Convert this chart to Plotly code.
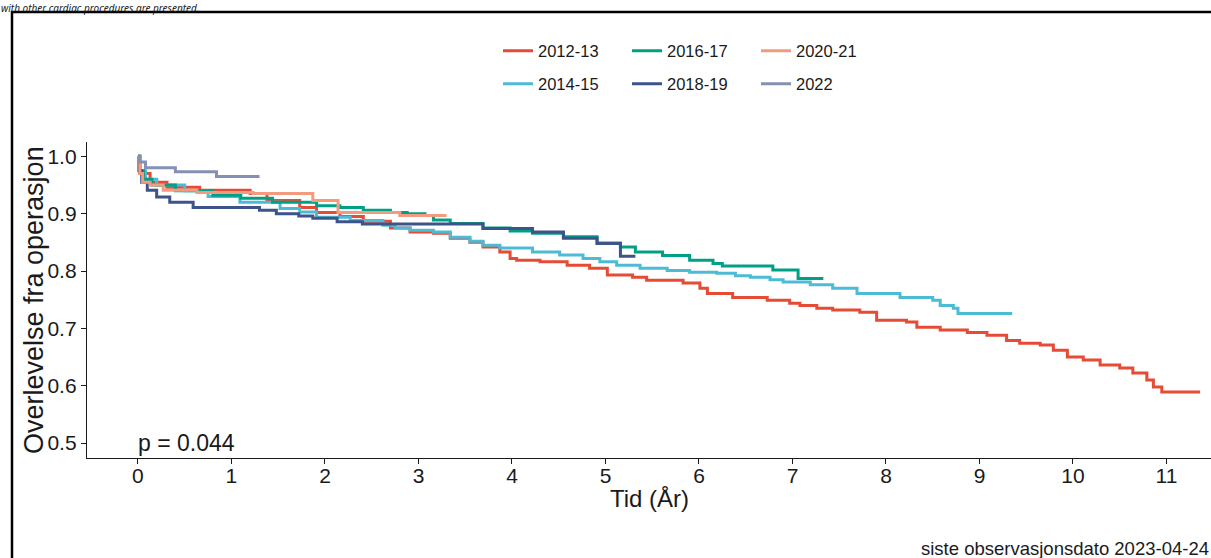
import plotly.graph_objects as go

# ---------------- data ----------------
groups = ["2012-13", "2014-15", "2016-17", "2018-19", "2020-21", "2022"]
colors = ["#E64B35", "#4DBBD5", "#00A087", "#3C5488", "#F39B7F", "#8491B4"]

t_2012_13 = [0, 0.02, 0.13, 0.31, 0.66, 1.20, 1.38, 1.73, 1.91, 2.16, 2.41, 2.70, 2.91, 3.16, 3.34,
             3.55, 3.69, 3.87, 3.98, 4.05, 4.30, 4.59, 4.83, 5.02, 5.29, 5.44, 5.83, 6.01, 6.09, 6.36,
             6.73, 6.97, 7.08, 7.26, 7.43, 7.72, 7.90, 8.22, 8.33, 8.58, 8.87, 9.08, 9.29, 9.43, 9.65,
             9.79, 9.94, 10.11, 10.29, 10.50, 10.64, 10.79, 10.86, 10.95, 11.36]
s_2012_13 = [1.0, 0.970, 0.955, 0.946, 0.941, 0.935, 0.923, 0.911, 0.902, 0.895, 0.887, 0.875, 0.868, 0.866, 0.857,
             0.850, 0.842, 0.833, 0.822, 0.819, 0.816, 0.810, 0.805, 0.793, 0.789, 0.784, 0.779, 0.770, 0.761, 0.754,
             0.749, 0.744, 0.740, 0.735, 0.732, 0.728, 0.714, 0.711, 0.702, 0.697, 0.693, 0.688, 0.679, 0.674, 0.671,
             0.662, 0.650, 0.645, 0.636, 0.631, 0.622, 0.610, 0.598, 0.589, 0.589]

t_2014_15 = [0, 0.02, 0.08, 0.2, 0.5, 0.75, 1.09, 1.52, 1.73, 1.91, 2.27, 2.62, 2.75, 2.91, 3.16,
             3.34, 3.55, 3.69, 3.87, 4.22, 4.51, 4.76, 4.94, 5.12, 5.37, 5.66, 5.90, 6.19, 6.39, 6.55,
             6.76, 6.90, 7.19, 7.43, 7.69, 8.15, 8.50, 8.58, 8.72, 8.77, 9.35]
s_2014_15 = [1.0, 0.975, 0.960, 0.950, 0.940, 0.930, 0.920, 0.909, 0.903, 0.894, 0.888, 0.880, 0.875, 0.871, 0.868,
             0.859, 0.852, 0.845, 0.840, 0.833, 0.828, 0.822, 0.816, 0.810, 0.805, 0.801, 0.798, 0.796, 0.792, 0.789,
             0.785, 0.781, 0.776, 0.770, 0.761, 0.754, 0.749, 0.740, 0.735, 0.726, 0.726]

t_2016_17 = [0, 0.02, 0.06, 0.15, 0.4, 0.8, 1.1, 1.44, 1.91, 2.16, 2.41, 2.70, 2.88, 3.07, 3.16,
             3.34, 3.69, 3.98, 4.22, 4.55, 4.91, 5.16, 5.32, 5.61, 5.90, 6.15, 6.25, 6.79, 7.06, 7.33]
s_2016_17 = [1.0, 0.975, 0.960, 0.950, 0.940, 0.932, 0.927, 0.920, 0.914, 0.911, 0.906, 0.902, 0.900, 0.897, 0.889,
             0.883, 0.875, 0.870, 0.866, 0.860, 0.849, 0.842, 0.833, 0.827, 0.819, 0.813, 0.809, 0.802, 0.787, 0.787]

t_2018_19 = [0, 0.01, 0.04, 0.10, 0.20, 0.34, 0.59, 1.30, 1.48, 1.72, 1.87, 2.13, 2.40, 3.69, 4.22,
             4.55, 4.91, 5.16, 5.32]
s_2018_19 = [1.0, 0.975, 0.955, 0.941, 0.929, 0.920, 0.911, 0.906, 0.900, 0.896, 0.892, 0.886, 0.882, 0.874, 0.868,
             0.857, 0.848, 0.826, 0.826]

t_2020_21 = [0, 0.02, 0.05, 0.13, 0.27, 0.63, 1.23, 1.87, 2.14, 2.80, 3.30]
s_2020_21 = [1.0, 0.970, 0.955, 0.950, 0.941, 0.937, 0.935, 0.923, 0.902, 0.897, 0.897]

t_2022 = [0, 0.02, 0.08, 0.40, 0.84, 1.30]
s_2022 = [1.0, 0.990, 0.980, 0.973, 0.965, 0.965]

x_ticks = list(range(0, 12))
y_ticks = [0.5, 0.6, 0.7, 0.8, 0.9, 1.0]
y_tick_labels = ["0.5", "0.6", "0.7", "0.8", "0.9", "1.0"]

p_text = "p = 0.044"
caption = "siste observasjonsdato 2023-04-24"
top_text = "with other cardiac procedures are presented."
x_title = "Tid (År)"
y_title = "Overlevelse fra operasjon"

series_t = [t_2012_13, t_2014_15, t_2016_17, t_2018_19, t_2020_21, t_2022]
series_s = [s_2012_13, s_2014_15, s_2016_17, s_2018_19, s_2020_21, s_2022]
# legend row assignment (first row: 2012-13, 2016-17, 2020-21; second row: the rest)
legend_ids = ["legend", "legend2", "legend", "legend2", "legend", "legend2"]

FONT = "Liberation Sans, Arial, sans-serif"
INK = "#1a1a1a"

fig = go.Figure()
for name, col, tt, ss, lg in zip(groups, colors, series_t, series_s, legend_ids):
    fig.add_trace(go.Scatter(
        x=tt, y=ss, mode="lines", name=name,
        line=dict(color=col, width=3, shape="hv"),
        legend=lg, showlegend=True,
    ))

# pixel geometry helpers (plot area: x 87..1211, y 142..458)
L, R, T, B = 87, 1211, 142, 458
def px(xp):
    return (xp - L) / (R - L)
def py(yp):
    return (B - yp) / (B - T)

legend_common = dict(
    orientation="h", xref="paper", yref="paper", xanchor="left", yanchor="middle",
    entrywidth=84, entrywidthmode="pixels", bgcolor="rgba(0,0,0,0)", borderwidth=0,
    font=dict(family=FONT, size=16.5, color=INK), itemwidth=30,
)

fig.update_layout(
    width=1211, height=558,
    margin=dict(l=L, r=0, t=T, b=558 - B, autoexpand=False),
    paper_bgcolor="white", plot_bgcolor="white",
    font=dict(family=FONT, color=INK),
    showlegend=True,
    legend=dict(x=px(498), y=py(51), **legend_common),
    legend2=dict(x=px(498), y=py(84), **legend_common),
    xaxis=dict(
        range=[-0.545, 11.476], tickmode="array", tickvals=x_ticks,
        ticks="outside", ticklen=5, tickwidth=1.2, tickcolor=INK,
        showline=True, linecolor=INK, linewidth=1.3,
        showgrid=False, zeroline=False, ticklabelstandoff=-6,
        tickfont=dict(family=FONT, size=21, color=INK),
    ),
    yaxis=dict(
        range=[0.474, 1.025], tickmode="array", tickvals=y_ticks, ticktext=y_tick_labels,
        ticks="outside", ticklen=5, tickwidth=1.2, tickcolor=INK,
        showline=True, linecolor=INK, linewidth=1.3,
        showgrid=False, zeroline=False,
        tickfont=dict(family=FONT, size=21, color=INK),
    ),
)

# outer frame (partially outside the page, as in the reference)
fig.add_shape(type="rect", xref="paper", yref="paper",
              x0=px(12), x1=px(1225), y0=py(575), y1=py(12),
              line=dict(color="black", width=2.5), fillcolor="rgba(0,0,0,0)")

# axis titles
fig.add_annotation(x=0.5, y=py(498), xref="paper", yref="paper", text=x_title, showarrow=False,
                   xanchor="center", yanchor="middle",
                   font=dict(family=FONT, size=24, color=INK))
fig.add_annotation(x=px(34), y=py(300), xref="paper", yref="paper", text=y_title, showarrow=False,
                   xanchor="center", yanchor="middle", textangle=-90,
                   font=dict(family=FONT, size=27, color=INK))

fig.add_annotation(x=0, y=0.474, xref="x", yref="y", text=p_text, showarrow=False,
                   xanchor="left", yanchor="bottom", xshift=-2,
                   font=dict(family=FONT, size=23, color=INK))
fig.add_annotation(x=1.0, y=py(548), xref="paper", yref="paper", text=caption, showarrow=False,
                   xanchor="right", yanchor="middle",
                   font=dict(family=FONT, size=18.5, color=INK))
fig.add_annotation(x=px(0), y=py(0), xref="paper", yref="paper", text=top_text, showarrow=False,
                   xanchor="left", yanchor="top", borderpad=0,
                   font=dict(family="Noto Sans, sans-serif", size=10, color=INK, style="italic"))

fig.write_html("out.html", config={"displayModeBar": False},
               post_script="document.body.style.margin='0';document.body.style.overflow='hidden';")
